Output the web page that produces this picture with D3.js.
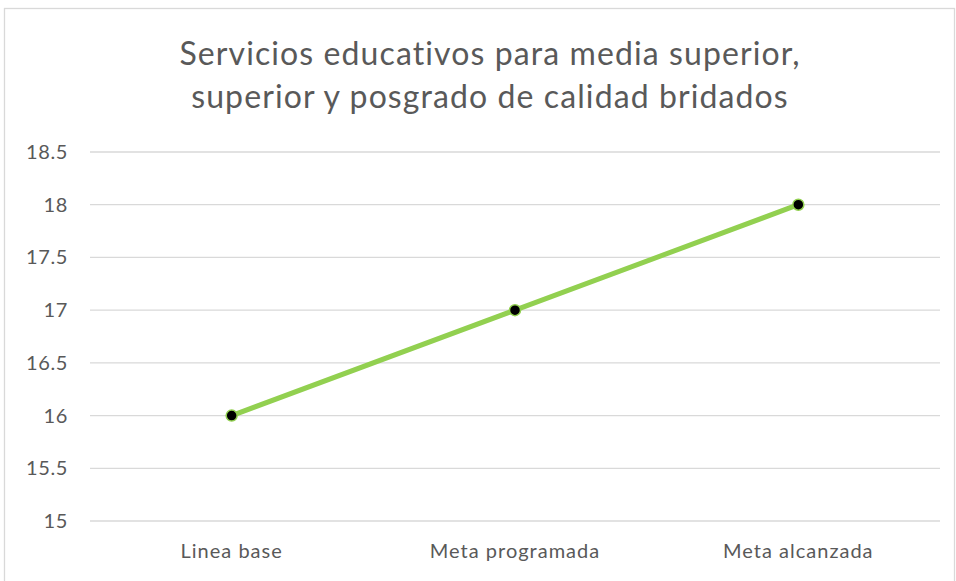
<!DOCTYPE html>
<meta charset="utf-8">
<style>
    body { margin: 0; background: #fff; }
    text { font-family: Lato, "Open Sans", sans-serif; fill: #595959; }
    .grid line { stroke: #d9d9d9; stroke-width: 1.3px; }
</style>
<svg width="956" height="581"></svg>
<script src="https://d3js.org/d3.v7.min.js"></script>
<script>
    var categories = ["Linea base", "Meta programada", "Meta alcanzada"];
    var values = [16, 17, 18];
    var yTicks = [15, 15.5, 16, 16.5, 17, 17.5, 18, 18.5];
    var titleLines = ["Servicios educativos para media superior,", "superior y posgrado de calidad bridados"];

    var svg = d3.select("svg");
    var plotLeft = 90, plotRight = 940, plotTop = 152, plotBottom = 521;

    // chart frame
    svg.append("rect")
        .attr("x", 4.5).attr("y", 8.5)
        .attr("width", 950).attr("height", 600)
        .attr("fill", "none")
        .attr("stroke", "#d9d9d9")
        .attr("stroke-width", 1.3);

    var x = d3.scaleBand().domain(categories).range([plotLeft, plotRight]);
    var y = d3.scaleLinear().domain([15, 18.5]).range([plotBottom, plotTop]);

    svg.append("g")
        .attr("class", "grid")
        .selectAll("line")
        .data(yTicks)
        .enter().append("line")
        .attr("x1", plotLeft).attr("x2", plotRight)
        .attr("y1", function(d) { return y(d); })
        .attr("y2", function(d) { return y(d); });

    svg.append("g")
        .selectAll("text")
        .data(yTicks)
        .enter().append("text")
        .attr("x", 68)
        .attr("y", function(d) { return y(d); })
        .attr("dy", "0.35em")
        .attr("text-anchor", "end")
        .style("font-size", "20px")
        .style("letter-spacing", "0.6px")
        .text(function(d) { return d; });

    svg.append("g")
        .selectAll("text")
        .data(categories)
        .enter().append("text")
        .attr("x", function(d) { return x(d) + x.bandwidth() / 2; })
        .attr("y", 558)
        .attr("text-anchor", "middle")
        .style("font-size", "20px")
        .style("letter-spacing", "1px")
        .text(function(d) { return d; });

    svg.append("g")
        .selectAll("text")
        .data(titleLines)
        .enter().append("text")
        .attr("x", 490)
        .attr("y", function(d, i) { return 65 + i * 43; })
        .attr("text-anchor", "middle")
        .style("font-size", "32px")
        .style("letter-spacing", "1.1px")
        .text(function(d) { return d; });

    var line = d3.line()
        .x(function(d, i) { return x(categories[i]) + x.bandwidth() / 2; })
        .y(function(d) { return y(d); });

    svg.append("path")
        .datum(values)
        .attr("d", line)
        .attr("fill", "none")
        .attr("stroke", "#92d050")
        .attr("stroke-width", 5)
        .attr("stroke-linecap", "round");

    svg.append("g")
        .selectAll("circle")
        .data(values)
        .enter().append("circle")
        .attr("cx", function(d, i) { return x(categories[i]) + x.bandwidth() / 2; })
        .attr("cy", function(d) { return y(d); })
        .attr("r", 5.5)
        .attr("fill", "#000")
        .attr("stroke", "#92d050")
        .attr("stroke-width", 1.5);
</script>
